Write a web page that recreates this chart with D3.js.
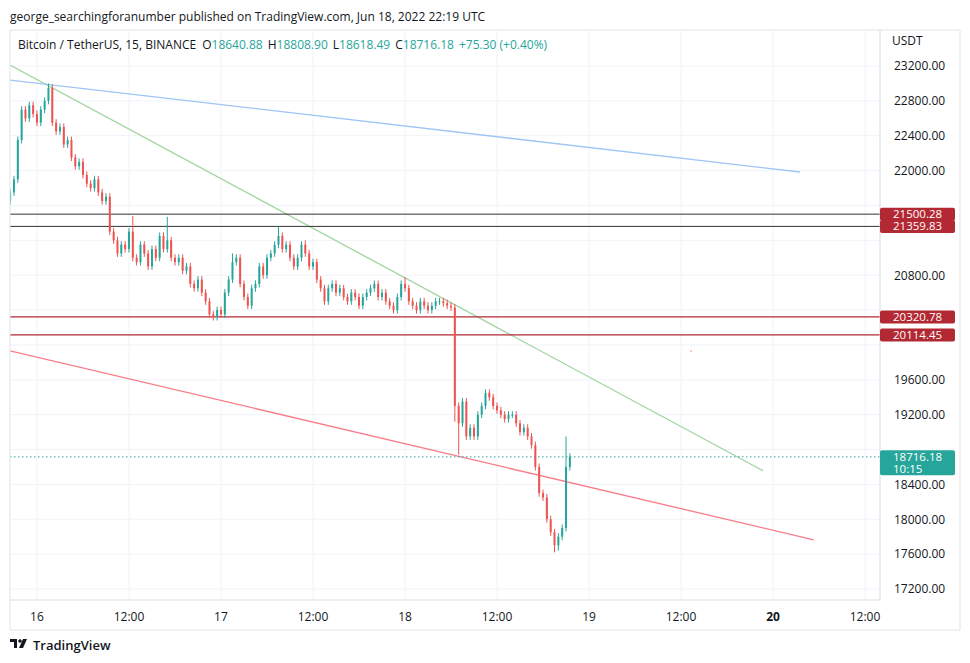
<!DOCTYPE html>
<html><head><meta charset="utf-8">
<script src="https://cdn.jsdelivr.net/npm/d3@7"></script>
<style>body{margin:0;background:#fff;font-family:"Open Sans",Roboto,sans-serif}</style>
</head><body><svg id="c" width="970" height="663"></svg>
<script>
const startTime = Date.UTC(2022,5,15,20,30);
const closes = [21750,21900,22350,22700,22600,22750,22650,22550,22700,22800,
22950,22550,22450,22500,22300,22350,22150,22050,22100,21950,
21850,21800,21900,21750,21650,21700,21300,21200,21050,21150,
21100,21300,21000,20950,21150,21050,20900,21100,21000,21250,
21100,21200,21000,20950,21000,20850,20900,20700,20650,20750,
20600,20500,20350,20320,20400,20350,20600,20750,20950,21000,
20700,20550,20450,20650,20700,20900,20800,21000,21050,21150,
21250,21100,21150,21000,20900,21000,21150,21050,20900,20950,
20750,20650,20500,20650,20700,20600,20650,20550,20500,20600,
20550,20450,20550,20600,20650,20700,20550,20600,20500,20450,
20400,20550,20700,20650,20500,20450,20400,20500,20450,20400,
20450,20500,20500,20480,20450,20430,19300,19100,19350,18950,
19050,18950,19200,19300,19450,19400,19300,19250,19200,19150,
19200,19200,19100,19000,19050,18950,18850,18600,18300,18250,
18000,17850,17700,17800,17900,18600,18716];
const spikes = [{i:10,high:23000},{i:32,high:21480},{i:41,high:21470},{i:58,high:21050},{i:70,high:21360},{i:77,high:21200},{i:103,high:20780},{i:53,low:20280},{i:117,low:18740},{i:142,low:17620},{i:143,low:17640},{i:145,high:18950},{i:116,low:19120}];
const priceTicks = d3.range(17200,23201,400);
const dayTicks = [[16,0,"16"],[16,12,"12:00"],[17,0,"17"],[17,12,"12:00"],[18,0,"18"],[18,12,"12:00"],[19,0,"19"],[19,12,"12:00"],[20,0,"20"],[20,12,"12:00"]];
const blackLevels = [21500.28,21359.83];
const redLevels = [20320.78,20114.45];
const lastPrice = 18716.18;
const trendLines = [
 {c:"#9fd49f",p:[[Date.UTC(2022,5,15,20,29),23211],[Date.UTC(2022,5,19,22,42),18556]]},
 {c:"#9ec5f5",p:[[Date.UTC(2022,5,15,20,29),23039],[Date.UTC(2022,5,20,3,30),21984]]},
 {c:"#f77c87",p:[[Date.UTC(2022,5,15,20,29),19932],[Date.UTC(2022,5,20,5,18),17764]]}];

const svg=d3.select("#c");
const L=10,R=880,T=30,B=600;
const x=d3.scaleUtc().domain([Date.UTC(2022,5,15,20,29),Date.UTC(2022,5,20,13,57)]).range([L,R]);
const y=d3.scaleLinear().domain([17200,23200]).range([589,66]);
const half=30*60*1000;
const data=closes.map((c,i)=>{const o=i?closes[i-1]:c-100;let h=Math.max(o,c)+40,l=Math.min(o,c)-40;
 spikes.filter(s=>s.i===i).forEach(s=>{if(s.high)h=s.high;if(s.low)l=s.low;});return {t:startTime+i*half,o,h,l,c};});
svg.append("clipPath").attr("id","cp").append("rect").attr("x",L).attr("y",T).attr("width",R-L).attr("height",B-T);
const g=svg.append("g");
priceTicks.forEach(p=>g.append("line").attr("x1",L).attr("x2",R).attr("y1",y(p)).attr("y2",y(p)).attr("stroke","#f0f3fa"));
dayTicks.forEach(d=>{const xx=x(Date.UTC(2022,5,d[0],d[1]));g.append("line").attr("x1",xx).attr("x2",xx).attr("y1",T).attr("y2",B).attr("stroke","#f0f3fa");});
const pg=svg.append("g").attr("clip-path","url(#cp)");
trendLines.forEach(tl=>pg.append("line").attr("x1",x(tl.p[0][0])).attr("y1",y(tl.p[0][1])).attr("x2",x(tl.p[1][0])).attr("y2",y(tl.p[1][1])).attr("stroke",tl.c).attr("stroke-width",1.3));
blackLevels.forEach(p=>pg.append("line").attr("x1",L).attr("x2",R).attr("y1",y(p)).attr("y2",y(p)).attr("stroke","#333"));
redLevels.forEach(p=>pg.append("line").attr("x1",L).attr("x2",R).attr("y1",y(p)).attr("y2",y(p)).attr("stroke","#b22833").attr("stroke-width",1.2));
pg.append("line").attr("x1",L).attr("x2",R).attr("y1",y(lastPrice)).attr("y2",y(lastPrice)).attr("stroke","#26a69a").attr("stroke-dasharray","1.5,2.5");
pg.selectAll(".w").data(data).join("line").attr("x1",d=>x(d.t)).attr("x2",d=>x(d.t)).attr("y1",d=>y(d.h)).attr("y2",d=>y(d.l))
 .attr("stroke",d=>d.c>=d.o?"#26a69a":"#ef5350").attr("stroke-width",1);
pg.selectAll(".b").data(data).join("rect").attr("x",d=>x(d.t)-1).attr("width",2).attr("y",d=>y(Math.max(d.o,d.c))).attr("height",d=>Math.max(1,Math.abs(y(d.o)-y(d.c))))
 .attr("fill",d=>d.c>=d.o?"#26a69a":"#ef5350");
svg.append("circle").attr("cx",691).attr("cy",351).attr("r",0.8).attr("fill","#f77c87");
svg.append("line").attr("x1",R).attr("x2",R).attr("y1",T).attr("y2",B).attr("stroke","#d6dcde");
svg.append("line").attr("x1",L).attr("x2",R).attr("y1",B).attr("y2",B).attr("stroke","#d6dcde");
[[L,T,L,630],[L,T,960,T],[960,T,960,630],[L,630,960,630]].forEach(a=>svg.append("line").attr("x1",a[0]).attr("y1",a[1]).attr("x2",a[2]).attr("y2",a[3]).attr("stroke","#e0e3eb"));
const tagPrices=[...blackLevels,...redLevels,lastPrice];
const shownTicks=priceTicks.filter(p=>tagPrices.every(q=>Math.abs(y(p)-y(q))>14));
const yAx=svg.append("g").attr("transform",`translate(${R},0)`).call(d3.axisRight(y).tickValues(shownTicks).tickFormat(d3.format(".2f")).tickSize(0).tickPadding(14));
yAx.select(".domain").remove();
yAx.selectAll("text").attr("font-size",12).attr("fill","#131722").attr("font-family","Open Sans, sans-serif");
svg.append("text").attr("x",892).attr("y",45).text("USDT").attr("font-size",12).attr("fill","#131722");
dayTicks.forEach(d=>svg.append("text").attr("x",x(Date.UTC(2022,5,d[0],d[1]))).attr("y",621).attr("text-anchor","middle").attr("font-size",12)
 .attr("font-weight",d[2]==="20"?"bold":"normal").attr("fill","#131722").text(d[2]));
function tag(p,fill,lines){const yy=y(p);const h=lines.length*12+1;
 svg.append("rect").attr("x",R).attr("y",yy-6.5).attr("width",75).attr("height",h).attr("rx",2).attr("fill",fill);
 lines.forEach((s,k)=>svg.append("text").attr("x",893).attr("y",yy+4+k*12).attr("fill","#fff").attr("font-size",11.5).text(s));}
blackLevels.forEach(p=>tag(p,"#b22833",[p.toFixed(2)]));
redLevels.forEach(p=>tag(p,"#b22833",[p.toFixed(2)]));
tag(lastPrice,"#26a69a",[lastPrice.toFixed(2),"10:15"]);
svg.append("text").attr("x",10).attr("y",21).attr("font-size",12).attr("fill","#131722").text("george_searchingforanumber published on TradingView.com, Jun 18, 2022 22:19 UTC");
const leg=svg.append("text").attr("x",18).attr("y",49).attr("font-size",12).attr("fill","#131722");
leg.append("tspan").text("Bitcoin / TetherUS, 15, BINANCE");
[["O","18640.88"],["H","18808.90"],["L","18618.49"],["C","18716.18"]].forEach(([a,b],k)=>{leg.append("tspan").attr("dx",k?5:6).text(a);leg.append("tspan").attr("fill","#26a69a").text(b);});
leg.append("tspan").attr("dx",5).attr("fill","#26a69a").text("+75.30 (+0.40%)");
const lg=svg.append("g").attr("transform","translate(10,639)");
lg.append("path").attr("d","M0 0h7v9h-3v-6h-4z M9 9l4-9h4l-4 9z").attr("fill","#131722");
lg.append("circle").attr("cx",10).attr("cy",2).attr("r",1.8).attr("fill","#131722");
svg.append("text").attr("x",33).attr("y",650).attr("font-size",13).attr("font-weight",600).attr("fill","#131722").text("TradingView");
</script></body></html>
